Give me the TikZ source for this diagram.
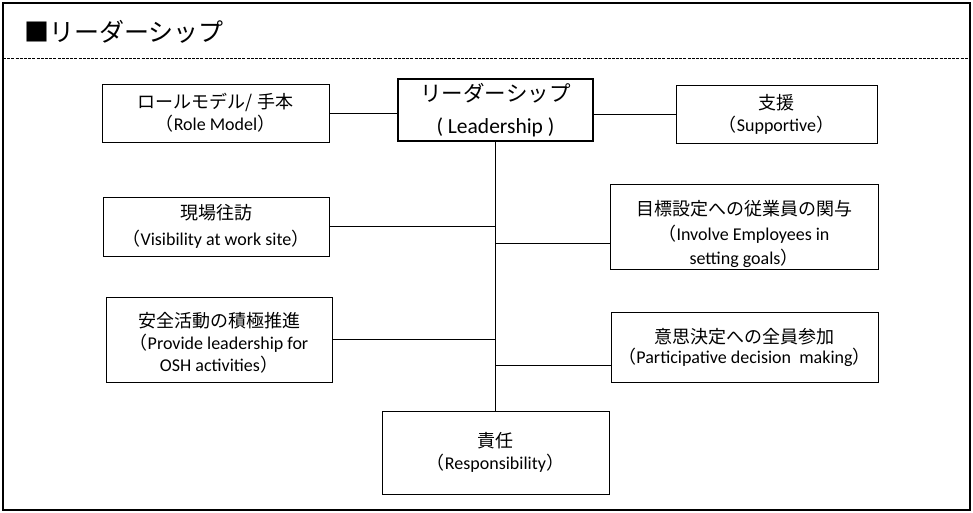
\documentclass[tikz,border=0pt]{standalone}
\usepackage{fontspec}
\setmainfont{Carlito}
\newfontfamily\jp{Noto Sans CJK JP}
\begin{document}
\begin{tikzpicture}[x=1pt,y=-1pt,
  box/.style={draw, line width=0.8pt, align=center, inner sep=0pt,
    font=\fontsize{18}{22}\selectfont},
  lead/.style={draw, line width=1.6pt, align=center, inner sep=0pt,
    font=\fontsize{21.5}{32}\selectfont},
  branch/.style={line width=0.8pt},
  trunk/.style={line width=1.4pt}]
\useasboundingbox (0,0) rectangle (973,513);
\draw[line width=2pt] (3,3) rectangle (970,510);
\draw[line width=1pt, dash pattern=on 3pt off 1.2pt] (3,59) -- (970,59);
\node[anchor=west, inner sep=0pt, font=\jp\fontsize{25}{28}\selectfont] (title) at (24,32) {■リーダーシップ};

\node[lead, minimum width=195, minimum height=62] (lead) at (495.5,110)
  {{\jp リーダーシップ}\\( Leadership )};
\node[box, minimum width=227, minimum height=58] (role) at (215.5,113)
  {{\jp ロールモデル/ 手本}\\{\jp （}Role Model{\jp ）}};
\node[box, minimum width=201, minimum height=58] (sup) at (776.5,114)
  {{\jp 支援}\\{\jp （}Supportive{\jp ）}};
\node[box, minimum width=226, minimum height=59] (vis) at (216,226.5)
  {{\jp 現場往訪}\\[4pt]{\jp （}Visibility at work site{\jp ）}};
\node[box, minimum width=268, minimum height=85] (inv) at (744,226.5)
  {\rule{0pt}{30pt}{\jp 目標設定への従業員の関与}\\[3pt]{\jp （}Involve Employees in\\[2pt]setting goals{\jp ）}};
\node[box, minimum width=226, minimum height=85] (osh) at (219,339.5)
  {\rule{0pt}{22pt}{\jp 安全活動の積極推進}\\{\jp （}Provide leadership for\\OSH activities{\jp ）}};
\node[box, minimum width=267, minimum height=70] (par) at (744.5,347)
  {{\jp 意思決定への全員参加}\\[-2pt]{\jp （}Participative decision\ \ making{\jp ）}};
\node[box, minimum width=227, minimum height=83] (resp) at (495.5,452.5)
  {{\jp 責任}\\{\jp （}Responsibility{\jp ）}};

\draw[trunk] (lead.south) -- (resp.north);
\draw[branch] (role.east) -- (role.east -| lead.west);
\draw[branch] (sup.west) -- (sup.west -| lead.east);
\draw[branch] (vis.east) -- (vis.east -| lead.south);
\coordinate (invc) at ([yshift=-16.5pt]inv.west);
\draw[branch] (invc) -- (invc -| lead.south);
\draw[branch] (osh.east) -- (osh.east -| lead.south);
\coordinate (parc) at ([yshift=-18pt]par.west);
\draw[branch] (parc) -- (parc -| lead.south);
\end{tikzpicture}
\end{document}
